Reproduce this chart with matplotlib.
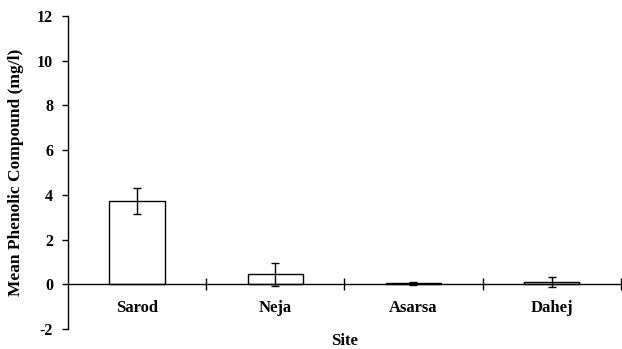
import numpy as np
import matplotlib.pyplot as plt

# Mean phenolic compound per sampling site, with standard deviation
sites = ['Sarod', 'Neja', 'Asarsa', 'Dahej']
mean_phenol = [3.73, 0.45, 0.04, 0.10]
sd_phenol = [0.56, 0.50, 0.06, 0.21]

plt.rcParams['font.family'] = ['Liberation Serif', 'DejaVu Serif']
plt.rcParams['font.weight'] = 'bold'

fig = plt.figure(figsize=(6.22, 3.49), dpi=100)
ax = fig.add_axes([0.109, 0.057, 0.889, 0.897])

x = np.arange(len(sites))
ax.bar(x, mean_phenol, width=0.4, color='white', edgecolor='black', linewidth=1.0,
       yerr=sd_phenol, capsize=3, error_kw={'elinewidth': 1.0, 'capthick': 1.0, 'ecolor': 'black'})

ax.set_ylim(-2, 12)
ax.set_xlim(-0.5, 3.5)
ax.set_yticks(range(-2, 13, 2))
ax.set_yticklabels([str(v) for v in range(-2, 13, 2)], fontsize=11.5, fontweight='bold')

# x axis drawn through zero, ticks between categories, names under each bar
ax.spines['bottom'].set_position(('data', 0))
ax.spines['top'].set_visible(False)
ax.spines['right'].set_visible(False)
ax.spines['left'].set_linewidth(1.0)
ax.spines['bottom'].set_linewidth(1.0)
ax.set_xticks([0.5, 1.5, 2.5, 3.5])
ax.set_xticklabels([])
ax.tick_params(axis='x', which='major', direction='inout', length=8, width=1.0)
ax.set_xticks(x, minor=True)
ax.set_xticklabels(sites, minor=True, fontsize=12, fontweight='bold')
ax.tick_params(axis='x', which='minor', length=0, pad=11)
ax.tick_params(axis='y', direction='out', length=4.5, width=1.0, pad=6)

ax.set_xlabel('Site', fontsize=12, fontweight='bold')
ax.xaxis.set_label_coords(0.5, -0.012)
ax.set_ylabel('Mean Phenolic Compound (mg/l)', fontsize=12.5, fontweight='bold')
ax.yaxis.set_label_coords(-0.079, 0.5)

fig.savefig('out.png', dpi=100)
